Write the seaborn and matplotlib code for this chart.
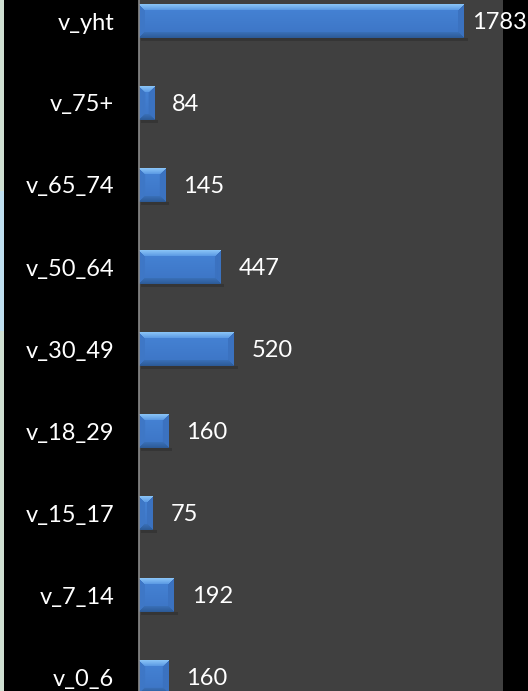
import matplotlib
matplotlib.use("Agg")
import matplotlib.pyplot as plt
import matplotlib.colors as mcolors
import seaborn as sns
import numpy as np
import pandas as pd

categories = ["v_yht", "v_75+", "v_65_74", "v_50_64", "v_30_49", "v_18_29", "v_15_17", "v_7_14", "v_0_6"]
values = [1783, 84, 145, 447, 520, 160, 75, 192, 160]

df = pd.DataFrame({"cat": categories, "val": values})

sns.set_style("dark")
plt.rcParams["font.family"] = ["Lato", "DejaVu Sans"]

W_PX, H_PX = 528, 691
fig = plt.figure(figsize=(W_PX / 100, H_PX / 100), dpi=100, facecolor="black")
# faint strip of the underlying picture on the far left
fig.patches.append(plt.Rectangle((0, 0), 4 / W_PX, 1, transform=fig.transFigure,
                                 facecolor="#cfe0d2", edgecolor="none", zorder=0))
fig.patches.append(plt.Rectangle((0, 360 / H_PX), 4 / W_PX, 140 / H_PX, transform=fig.transFigure,
                                 facecolor="#bfe0f0", edgecolor="none", zorder=0))

ax = fig.add_axes([139 / W_PX, 0, (503 - 139) / W_PX, 1])
ax.set_facecolor("#404040")

sns.barplot(data=df, x="val", y="cat", orient="h", color="#3f7bd0",
            width=0.41, ax=ax, edgecolor="none", linewidth=0, saturation=1)

ax.set_xlim(0, 2000)
ax.set_ylim((H_PX - 21) / 82, -21 / 82)

# bevel effect for each bar
def rgb(h):
    return np.array(mcolors.to_rgb(h))

c_top0, c_top1 = rgb("#8cc6f8"), rgb("#5b9ae4")
c_bot0, c_bot1 = rgb("#3a70b8"), rgb("#2c5a96")
c_left = rgb("#3e77c6")
c_right = rgb("#3b72c0")
c_face0, c_face1 = rgb("#4684d6"), rgb("#3c74c4")

fig.canvas.draw()
for p in list(ax.patches):
    x0, y0 = p.get_x(), p.get_y()
    w, h = p.get_width(), p.get_height()
    (px0, py0), (px1, py1) = ax.transData.transform([(x0, y0), (x0 + w, y0 + h)])
    Wp = max(int(round(abs(px1 - px0))), 2)
    Hp = max(int(round(abs(py1 - py0))), 2)
    b = min(6, Wp / 2, Hp / 2)
    r = np.arange(Hp)[:, None] + 0.5
    c = np.arange(Wp)[None, :] + 0.5
    dt = np.broadcast_to(r, (Hp, Wp))
    db = np.broadcast_to(Hp - r, (Hp, Wp))
    dl = np.broadcast_to(c, (Hp, Wp))
    dr = np.broadcast_to(Wp - c, (Hp, Wp))
    stack = np.stack([dt, db, dl, dr])
    which = np.argmin(stack, axis=0)
    dmin = np.min(stack, axis=0)
    t = (r / Hp)
    img = np.empty((Hp, Wp, 3))
    face = c_face0[None, None, :] * (1 - t[..., None]) + c_face1[None, None, :] * t[..., None]
    img[:] = np.broadcast_to(face, (Hp, Wp, 3))
    edge = dmin < b
    tt = np.clip(dt / max(b, 1), 0, 1)[..., None]
    topc = c_top0 * (1 - tt) + c_top1 * tt
    tb = np.clip(db / max(b, 1), 0, 1)[..., None]
    botc = c_bot1 * (1 - tb) + c_bot0 * tb
    img = np.where((edge & (which == 0))[..., None], topc, img)
    img = np.where((edge & (which == 1))[..., None], botc, img)
    img = np.where((edge & (which == 2))[..., None], c_left, img)
    img = np.where((edge & (which == 3))[..., None], c_right, img)
    # soft shadow under the bar
    ax.add_patch(plt.Rectangle((x0 + 2 / 0.182, y0 + h), w + 2 / 0.182, 3 / 82, facecolor="#353535",
                               edgecolor="none", zorder=p.get_zorder() - 0.1))
    ax.imshow(img, extent=[x0, x0 + w, y0 + h, y0], aspect="auto",
              interpolation="bilinear", zorder=p.get_zorder() + 0.1)

ax.set_xlim(0, 2000)
ax.set_ylim((H_PX - 21) / 82, -21 / 82)

for i, (cat, v) in enumerate(zip(categories, values)):
    pad = 9 if v == max(values) else 18
    ax.annotate(str(v), xy=(v, i), xytext=(pad * 0.72, -1), textcoords="offset points",
                ha="left", va="center", color="white", fontsize=17)

ax.set_xlabel("")
ax.set_ylabel("")
ax.set_xticks([])
ax.tick_params(axis="y", length=0, pad=18, labelsize=17, labelcolor="white")
for s in ["top", "right", "bottom"]:
    ax.spines[s].set_visible(False)
ax.spines["left"].set_visible(True)
ax.spines["left"].set_color("#8a8a8a")
ax.spines["left"].set_linewidth(1.2)
ax.spines["left"].set_zorder(5)
ax.grid(False)

fig.savefig("out.png", dpi=100, facecolor="black")
